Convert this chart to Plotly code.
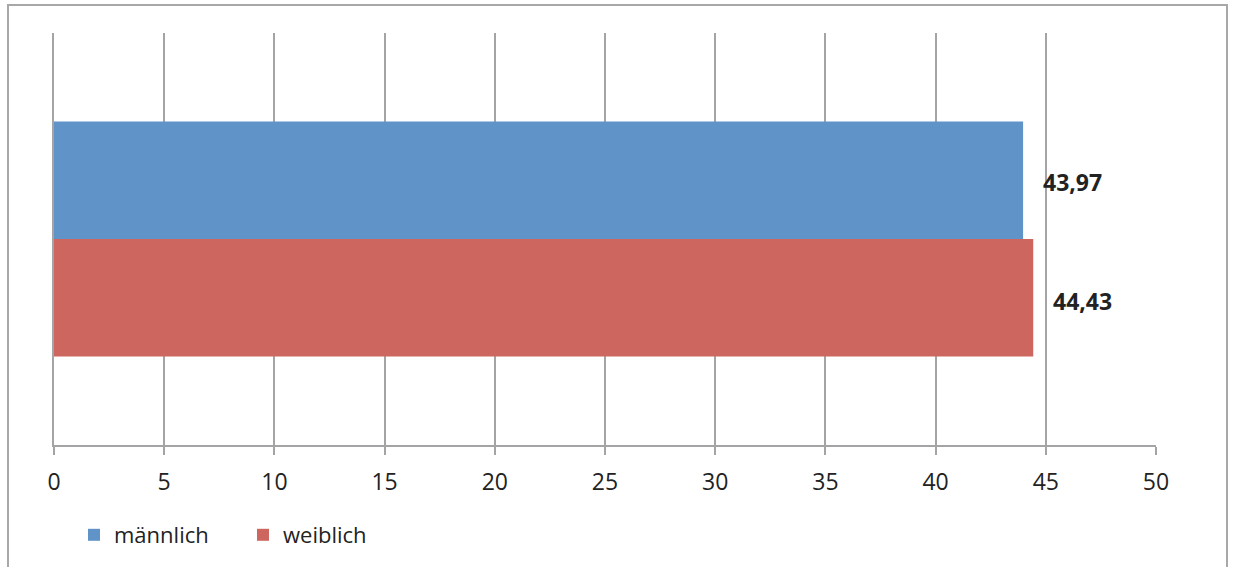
import plotly.graph_objects as go

# Durchschnittsalter nach Geschlecht
series = ["männlich", "weiblich"]
values = [43.97, 44.43]
colors = ["#6094C8", "#CC665F"]
category_pos = [0]

x_ticks = [0, 5, 10, 15, 20, 25, 30, 35, 40, 45, 50]

grid_col = "#A4A4A7"
font_family = "Open Sans, Noto Sans, sans-serif"

fig = go.Figure()
for name, val, col in zip(series, values, colors):
    fig.add_trace(go.Bar(
        name=name,
        x=[val],
        y=category_pos,
        orientation="h",
        marker=dict(color=col, line=dict(width=0)),
        hoverinfo="x+name",
    ))

# Value labels to the right of each bar
offsets = [57, -62]
for val, dy in zip(values, offsets):
    fig.add_annotation(
        x=val, y=category_pos[0], xref="x", yref="y",
        text=f"<b>{val:.2f}".replace(".", ",") + "</b>",
        showarrow=False, xanchor="left", yanchor="middle",
        xshift=18, yshift=dy,
        font=dict(family=font_family, size=23, color="#222222"),
    )

# Outer chart frame
plot_l, plot_r, plot_t, plot_b = 54, 1156, 33, 446
pw, ph = plot_r - plot_l, plot_b - plot_t
def px(xp):
    return (xp - plot_l) / pw
def py(yp):
    return (plot_b - yp) / ph
fig.add_shape(type="rect", xref="paper", yref="paper",
              x0=px(8), x1=px(1227), y0=py(580), y1=py(5),
              line=dict(color="#A8A8A8", width=2), fillcolor="rgba(0,0,0,0)",
              layer="below")

fig.update_layout(
    width=1234, height=567,
    margin=dict(l=plot_l, r=1234 - plot_r, t=plot_t, b=567 - plot_b),
    paper_bgcolor="white", plot_bgcolor="white",
    barmode="group", bargap=0.43, bargroupgap=0,
    showlegend=True,
    legend=dict(
        orientation="h", x=px(74), y=py(535), xanchor="left", yanchor="middle",
        font=dict(family=font_family, size=22, color="#222222"),
        bgcolor="rgba(0,0,0,0)", traceorder="normal",
        entrywidth=124, entrywidthmode="pixels",
    ),
    font=dict(family=font_family, size=22, color="#222222"),
    xaxis=dict(
        range=[0, 50], tickvals=x_ticks, ticktext=[str(t) for t in x_ticks],
        showgrid=True, gridcolor=grid_col, gridwidth=2,
        showline=True, linecolor=grid_col, linewidth=2,
        ticks="outside", ticklen=8, tickwidth=2, tickcolor=grid_col,
        ticklabelstandoff=7,
        zeroline=False, fixedrange=True,
        tickfont=dict(family=font_family, size=23, color="#222222"),
    ),
    yaxis=dict(
        range=[0.5, -0.5], showgrid=False,
        showline=True, linecolor=grid_col, linewidth=2, mirror=False,
        showticklabels=False, ticks="", zeroline=False, fixedrange=True,
    ),
)

fig.write_html("out.html")
